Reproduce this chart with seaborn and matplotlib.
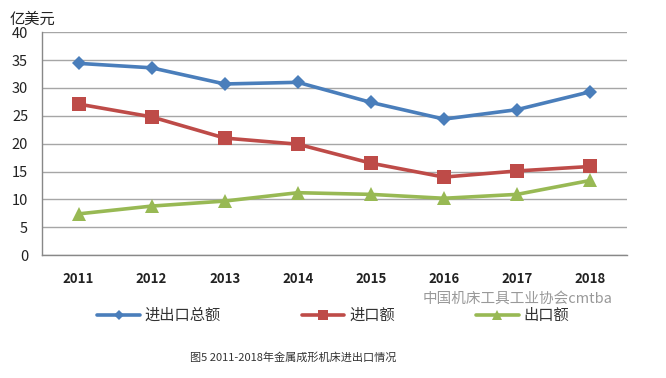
import numpy as np
import pandas as pd
import matplotlib
matplotlib.use('Agg')
import matplotlib.pyplot as plt
import seaborn as sns
from matplotlib.lines import Line2D

years = ["2011", "2012", "2013", "2014", "2015", "2016", "2017", "2018"]
total = [34.4, 33.6, 30.7, 31.0, 27.4, 24.4, 26.1, 29.3]
imports = [27.1, 24.8, 21.0, 19.9, 16.5, 14.0, 15.1, 15.9]
exports = [7.4, 8.8, 9.7, 11.2, 10.9, 10.2, 10.9, 13.4]
series_names = ["进出口总额", "进口额", "出口额"]
y_ticks = [0, 5, 10, 15, 20, 25, 30, 35, 40]

colors = {"进出口总额": "#4a7ebb", "进口额": "#be4b48", "出口额": "#98b954"}
markers = {"进出口总额": "D", "进口额": "s", "出口额": "^"}
sizes = {"进出口总额": 7.5, "进口额": 9.5, "出口额": 9.5}

df = pd.DataFrame({
    "idx": list(range(len(years))) * 3,
    "value": total + imports + exports,
    "series": np.repeat(series_names, len(years)),
})

sns.set_style("white")
plt.rcParams['font.family'] = ['Noto Sans CJK SC', 'DejaVu Sans']

fig = plt.figure(figsize=(6.66, 3.78), dpi=100)
ax = fig.add_axes([0.063, 0.325, 0.878, 0.59])

for name in series_names:
    sub = df[df["series"] == name]
    sns.lineplot(data=sub, x="idx", y="value", ax=ax, color=colors[name],
                 marker=markers[name], markersize=sizes[name], markeredgewidth=0,
                 linewidth=2.6, legend=False)

ax.set_xlim(-0.5, len(years) - 0.5)
ax.set_ylim(0, 40)
ax.set_yticks(y_ticks)
ax.set_yticklabels([str(v) for v in y_ticks], fontsize=10.5, color="#222222")
ax.set_xticks(range(len(years)))
ax.set_xticklabels(years, fontsize=9.5, color="#222222", fontweight="bold")
ax.set_xticks(np.arange(-0.5, len(years)), minor=True)
ax.tick_params(axis="x", which="major", length=0, pad=12)
ax.tick_params(axis="x", which="minor", length=5, color="#888888", width=1)
ax.tick_params(axis="y", length=4, color="#888888", pad=6)
ax.set_xlabel("")
ax.set_ylabel("")
ax.yaxis.grid(True, color="#a6a6a6", linewidth=1)
ax.set_axisbelow(True)
for s in ["top", "right"]:
    ax.spines[s].set_visible(False)
for s in ["left", "bottom"]:
    ax.spines[s].set_color("#888888")
    ax.spines[s].set_linewidth(1)

fig.text(0.015, 0.95, "亿美元", fontsize=11, color="#222222", va="center")

handles = [Line2D([0], [0], color=colors[n], marker=markers[n], markersize=sizes[n] * 0.7,
                  markeredgewidth=0, linewidth=2.6) for n in series_names]
fig.legend(handles, series_names, loc="center", bbox_to_anchor=(0.5, 0.165), ncol=3,
           frameon=False, fontsize=11, handlelength=2.8, columnspacing=5.3, handletextpad=0.3,
           labelcolor="#333333")

fig.text(0.635, 0.21, "中国机床工具工业协会cmtba", fontsize=10.5, color="#999999", va="center")
fig.text(0.285, 0.055, "图5 2011-2018年金属成形机床进出口情况", fontsize=8, color="#333333", va="center")

fig.savefig("out.png", dpi=100)
